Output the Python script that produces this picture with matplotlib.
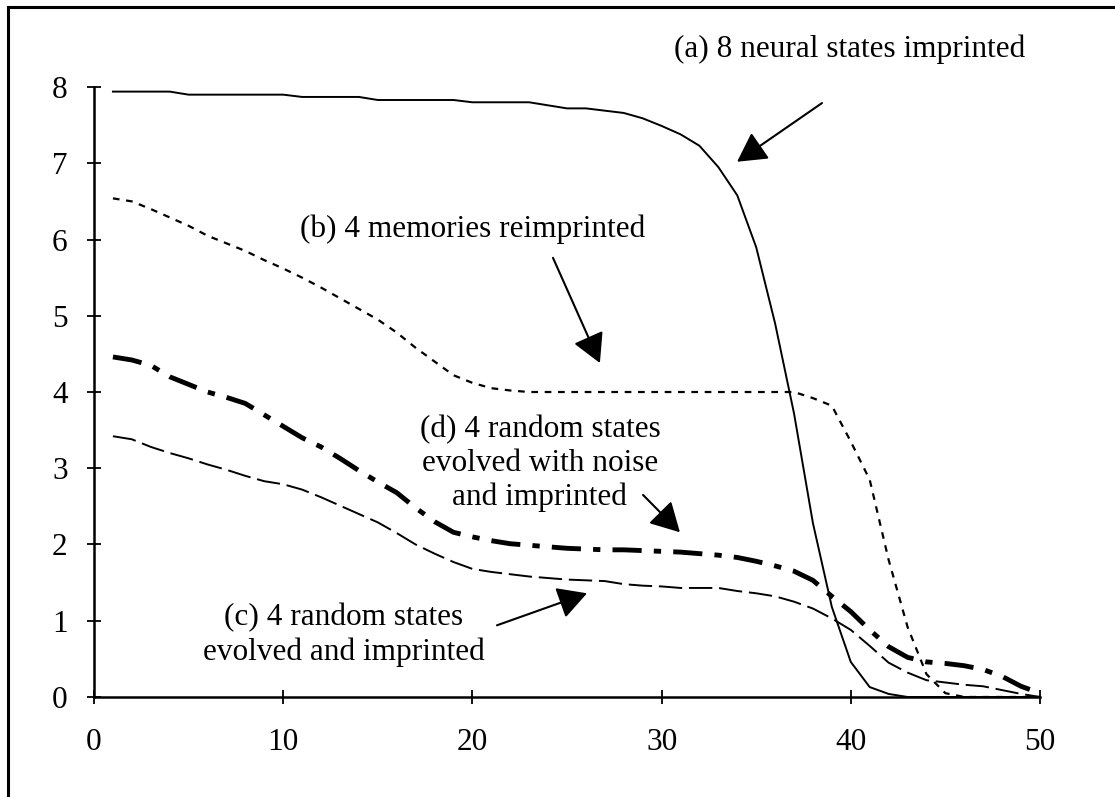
import numpy as np
import matplotlib
matplotlib.use("Agg")
import matplotlib.pyplot as plt
from matplotlib.lines import Line2D

# ---------------- data ----------------
steps = list(range(1, 51))

neural_8 = [7.94, 7.94, 7.94, 7.94, 7.90, 7.90, 7.90, 7.90, 7.90, 7.90,
            7.87, 7.87, 7.87, 7.87, 7.83, 7.83, 7.83, 7.83, 7.83, 7.80,
            7.80, 7.80, 7.80, 7.76, 7.72, 7.72, 7.69, 7.66, 7.59, 7.49,
            7.38, 7.23, 6.95, 6.58, 5.90, 4.90, 3.72, 2.28, 1.18, 0.46,
            0.13, 0.04, 0.0, 0.0, 0.0, 0.0, 0.0, 0.0, 0.0, 0.0]

memories_4 = [6.54, 6.50, 6.40, 6.29, 6.18, 6.05, 5.95, 5.85, 5.73, 5.62,
              5.50, 5.37, 5.23, 5.09, 4.95, 4.78, 4.58, 4.40, 4.22, 4.12,
              4.05, 4.02, 4.00, 4.00, 4.00, 4.00, 4.00, 4.00, 4.00, 4.00,
              4.00, 4.00, 4.00, 4.00, 4.00, 4.00, 4.00, 3.92, 3.82, 3.35,
              2.85, 1.80, 0.92, 0.30, 0.05, 0.0, 0.0, 0.0, 0.0, 0.0]

random_evolved = [3.42, 3.38, 3.28, 3.20, 3.13, 3.05, 2.98, 2.90, 2.83, 2.79,
                  2.72, 2.62, 2.51, 2.40, 2.29, 2.15, 2.00, 1.88, 1.77, 1.68,
                  1.64, 1.61, 1.58, 1.56, 1.54, 1.53, 1.52, 1.48, 1.46, 1.45,
                  1.43, 1.43, 1.43, 1.39, 1.36, 1.32, 1.25, 1.16, 1.03, 0.88,
                  0.67, 0.45, 0.32, 0.22, 0.19, 0.16, 0.14, 0.09, 0.04, 0.0]

random_noise = [4.46, 4.42, 4.35, 4.20, 4.10, 4.00, 3.93, 3.85, 3.70, 3.55,
                3.40, 3.28, 3.13, 2.97, 2.82, 2.68, 2.48, 2.30, 2.16, 2.10,
                2.05, 2.01, 1.99, 1.97, 1.95, 1.94, 1.93, 1.93, 1.92, 1.91,
                1.90, 1.88, 1.86, 1.83, 1.78, 1.72, 1.65, 1.53, 1.32, 1.12,
                0.88, 0.66, 0.52, 0.46, 0.44, 0.41, 0.36, 0.27, 0.14, 0.05]

x_ticks = [0, 10, 20, 30, 40, 50]
y_ticks = [0, 1, 2, 3, 4, 5, 6, 7, 8]

plt.rcParams['font.family'] = ['Liberation Serif', 'DejaVu Serif']
FS = 22.5

fig = plt.figure(figsize=(11.15, 7.97), dpi=100)
ax = fig.add_axes([0.0843, 0.1255, 0.9327 - 0.0843, 0.8908 - 0.1255])

ax.plot(steps, neural_8, color='black', lw=1.4, clip_on=False)
ax.plot(steps, memories_4, color='black', lw=1.6, linestyle=(0, (3, 3)),
        dash_capstyle='butt', clip_on=False)
ax.plot(steps, random_evolved, color='black', lw=1.4, linestyle=(0, (12, 3.5)),
        dash_capstyle='butt', clip_on=False)
ax.plot(steps, random_noise, color='black', lw=3.5, linestyle=(0, (6, 2.5, 1.5, 2.5)),
        dash_capstyle='butt', clip_on=False)

ax.set_xlim(0, 50)
ax.set_ylim(0, 8)
ax.set_xticks(x_ticks)
ax.set_yticks(y_ticks)
ax.tick_params(direction='inout', length=10, width=1.3, labelsize=FS)
ax.tick_params(axis='x', pad=17)
ax.tick_params(axis='y', pad=14)
for s in ['top', 'right']:
    ax.spines[s].set_visible(False)
for s in ['left', 'bottom']:
    ax.spines[s].set_linewidth(1.8)

# ---------------- annotations ----------------
arrow = dict(arrowstyle='-|>,head_length=0.4,head_width=0.22', mutation_scale=45,
             lw=1.5, color='black', shrinkA=0, shrinkB=0)

ax.text(39.96, 8.49, '(a) 8 neural states imprinted', fontsize=FS,
        ha='center', va='center', clip_on=False)
ax.annotate('', xy=(33.99, 7.02), xytext=(38.48, 7.79), arrowprops=arrow,
            annotation_clip=False)

ax.text(20.03, 6.13, '(b) 4 memories reimprinted', fontsize=FS,
        ha='center', va='center')
ax.annotate('', xy=(26.74, 4.38), xytext=(24.26, 5.76), arrowprops=arrow)

ax.text(23.57, 3.06, '(d) 4 random states\nevolved with noise\nand imprinted',
        fontsize=FS, ha='center', va='center', linespacing=1.2)
ax.annotate('', xy=(30.97, 2.16), xytext=(29.02, 2.65), arrowprops=arrow)

ax.text(13.2, 0.81, '(c) 4 random states\nevolved and imprinted',
        fontsize=FS, ha='center', va='center', linespacing=1.22)
ax.annotate('', xy=(26.06, 1.36), xytext=(21.3, 0.94), arrowprops=arrow)

# outer frame (only top and left edges fall inside the image)
fx = 8 / 1115
fy = 1 - 7 / 797
fig.add_artist(Line2D([fx, 1.0], [fy, fy], color='black', lw=2.2, transform=fig.transFigure))
fig.add_artist(Line2D([fx, fx], [0.0, fy], color='black', lw=2.2, transform=fig.transFigure))

fig.savefig('out.png', dpi=100)
